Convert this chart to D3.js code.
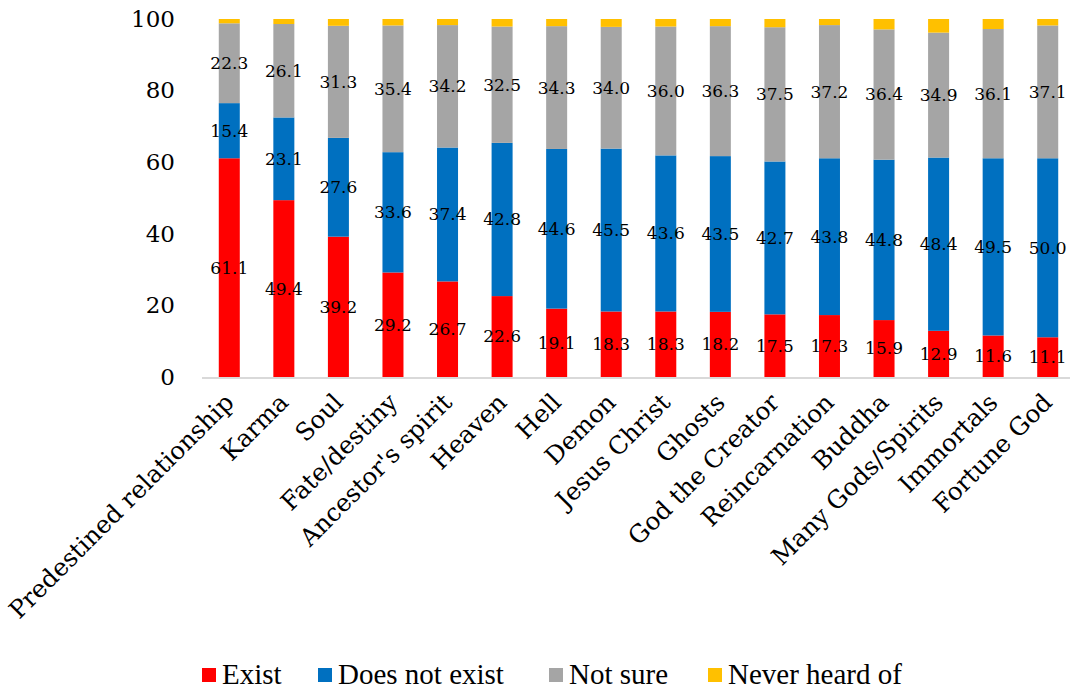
<!DOCTYPE html>
<html>
<head>
<meta charset="utf-8">
<script src="https://cdn.jsdelivr.net/npm/d3@7"></script>
<style>
  body { margin: 0; background: #fff; }
  svg { display: block; }
</style>
</head>
<body>
<script>
var width = 1070;
var height = 690;

// data
var categories = ["Predestined relationship", "Karma", "Soul", "Fate/destiny", "Ancestor's spirit",
  "Heaven", "Hell", "Demon", "Jesus Christ", "Ghosts", "God the Creator", "Reincarnation",
  "Buddha", "Many Gods/Spirits", "Immortals", "Fortune God"];
var exist = [61.1, 49.4, 39.2, 29.2, 26.7, 22.6, 19.1, 18.3, 18.3, 18.2, 17.5, 17.3, 15.9, 12.9, 11.6, 11.1];
var notExist = [15.4, 23.1, 27.6, 33.6, 37.4, 42.8, 44.6, 45.5, 43.6, 43.5, 42.7, 43.8, 44.8, 48.4, 49.5, 50.0];
var notSure = [22.3, 26.1, 31.3, 35.4, 34.2, 32.5, 34.3, 34.0, 36.0, 36.3, 37.5, 37.2, 36.4, 34.9, 36.1, 37.1];
var neverHeard = [1.2, 1.4, 1.9, 1.8, 1.7, 2.1, 2.0, 2.2, 2.1, 2.0, 2.3, 1.7, 2.9, 3.8, 2.8, 1.8];
var yTicks = [0, 20, 40, 60, 80, 100];

var seriesNames = ["Exist", "Does not exist", "Not sure", "Never heard of"];
var seriesColors = ["#ff0000", "#0070c0", "#a5a5a5", "#ffc000"];
var seriesLabeled = [true, true, true, false];

// rows for d3.stack
var rows = categories.map(function(c, i) {
  return { cat: c, "Exist": exist[i], "Does not exist": notExist[i], "Not sure": notSure[i], "Never heard of": neverHeard[i] };
});

var svg = d3.select("body").append("svg")
  .attr("width", width)
  .attr("height", height);

var x = d3.scaleBand()
  .domain(categories)
  .range([202, 1075])
  .paddingInner(0.615)
  .paddingOuter(0.3075);

var y = d3.scaleLinear()
  .domain([0, 100])
  .range([377, 19]);

var color = d3.scaleOrdinal().domain(seriesNames).range(seriesColors);

var stacked = d3.stack().keys(seriesNames)(rows);

// bars
var layer = svg.selectAll(".layer")
  .data(stacked)
  .enter()
  .append("g")
  .attr("class", "layer")
  .attr("fill", function(d) { return color(d.key); });

layer.selectAll("rect")
  .data(function(d) { return d; })
  .enter()
  .append("rect")
  .attr("x", function(d) { return x(d.data.cat); })
  .attr("y", function(d) { return y(d[1]); })
  .attr("width", x.bandwidth())
  .attr("height", function(d) { return y(d[0]) - y(d[1]); });

// x axis line
svg.append("line")
  .attr("x1", 202).attr("x2", 1070)
  .attr("y1", y(0) + 1).attr("y2", y(0) + 1)
  .attr("stroke", "#d9d9d9")
  .attr("stroke-width", 2);

// value labels
var fmt = d3.format(".1f");
stacked.forEach(function(s, k) {
  if (!seriesLabeled[k]) return;
  svg.append("g").selectAll("text")
    .data(s)
    .enter()
    .append("text")
    .attr("x", function(d) { return x(d.data.cat) + x.bandwidth() / 2; })
    .attr("y", function(d) { return y((d[0] + d[1]) / 2); })
    .attr("dy", "0.35em")
    .attr("text-anchor", "middle")
    .style("font-family", "'DejaVu Serif', serif")
    .style("font-size", "17px")
    .attr("fill", "#000")
    .text(function(d) { return fmt(d[1] - d[0]); });
});

// y axis
var yAxis = d3.axisLeft(y).tickValues(yTicks).tickSize(0).tickPadding(3);
var gy = svg.append("g")
  .attr("transform", "translate(178,0)")
  .call(yAxis);
gy.select(".domain").remove();
gy.selectAll("text")
  .style("font-family", "'DejaVu Serif', serif")
  .style("font-size", "23px")
  .attr("fill", "#000");

// category labels
svg.append("g").selectAll("text")
  .data(categories)
  .enter()
  .append("text")
  .attr("text-anchor", "end")
  .attr("transform", function(d) {
    return "translate(" + (x(d) + x.bandwidth() / 2 + 6) + ",404) rotate(-45)";
  })
  .style("font-family", "'DejaVu Serif', serif")
  .style("font-size", "24.5px")
  .attr("fill", "#000")
  .text(function(d) { return d; });

// legend
var legendX = [202, 318, 549, 708];
var legend = svg.append("g").selectAll("g")
  .data(seriesNames)
  .enter()
  .append("g")
  .attr("transform", function(d, i) { return "translate(" + legendX[i] + ",668)"; });

legend.append("rect")
  .attr("width", 14)
  .attr("height", 14)
  .attr("fill", function(d) { return color(d); });

legend.append("text")
  .attr("x", 20)
  .attr("y", 16)
  .style("font-family", "'Liberation Serif', serif")
  .style("font-size", "29px")
  .attr("fill", "#000")
  .text(function(d) { return d; });
</script>
</body>
</html>
